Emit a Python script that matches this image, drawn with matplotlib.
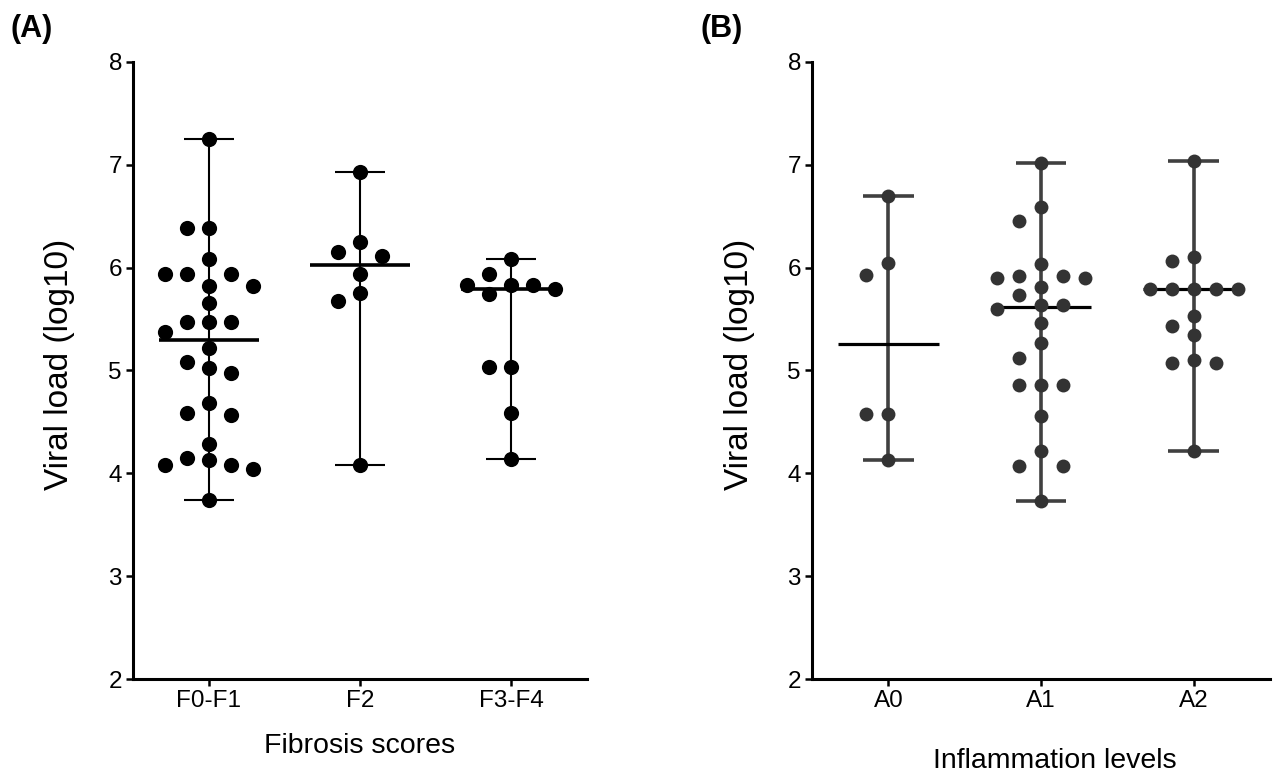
import matplotlib
matplotlib.use('Agg')
import matplotlib.pyplot as plt
import numpy as np

plt.rcParams['font.family'] = ['Liberation Sans', 'DejaVu Sans']

# (A) viral load by fibrosis score
fib_groups = ['F0-F1', 'F2', 'F3-F4']
fib_f0f1 = [7.25, 6.39, 6.39, 6.08, 5.94, 5.94, 5.94, 5.82, 5.82, 5.66,
            5.47, 5.47, 5.47, 5.37, 5.22, 5.08, 5.02, 4.98, 4.68, 4.59,
            4.57, 4.29, 4.15, 4.13, 4.08, 4.08, 4.04, 3.74]
fib_f2 = [6.93, 6.25, 6.15, 6.11, 5.94, 5.75, 5.68, 4.08]
fib_f3f4 = [6.08, 5.94, 5.83, 5.83, 5.83, 5.79, 5.74, 5.03, 5.03, 4.59, 4.14]

# (B) viral load by inflammation level
inf_groups = ['A0', 'A1', 'A2']
inf_a0 = [6.70, 6.05, 5.93, 4.58, 4.58, 4.13]
inf_a1 = [7.02, 6.59, 6.45, 6.04, 5.92, 5.92, 5.90, 5.90, 5.81, 5.73,
          5.64, 5.64, 5.60, 5.46, 5.27, 5.12, 4.86, 4.86, 4.86, 4.56,
          4.22, 4.07, 4.07, 3.73]
inf_a2 = [7.04, 6.10, 6.06, 5.79, 5.79, 5.79, 5.79, 5.79, 5.53, 5.43,
          5.35, 5.10, 5.07, 5.07, 4.22]


def swarm(ax, vals, diam_px=16.0, step_px=22.0):
    # greedy beeswarm, done in pixel space
    p0 = ax.transData.transform((0, 0))
    p1 = ax.transData.transform((1, 1))
    sx = p1[0] - p0[0]
    sy = p1[1] - p0[1]
    placed = []
    offs = []
    for v in vals:
        y = v * sy
        k = 0
        found = None
        while found is None:
            cands = [0] if k == 0 else [-k, k]
            for c in cands:
                x = c * step_px
                if all((x - a) ** 2 + (y - b) ** 2 >= diam_px ** 2 for a, b in placed):
                    found = x
                    break
            k += 1
        placed.append((found, y))
        offs.append(found / sx)
    return np.array(offs)


def panel(ax, groups, data, color, line_color, lw, med_lw, dot_s):
    ax.set_xlim(-0.5, 2.5)
    ax.set_ylim(2, 8)
    for i, vals in enumerate(data):
        vals = np.array(vals)
        lo, hi, med = vals.min(), vals.max(), np.median(vals)
        ax.vlines(i, lo, hi, color=line_color, lw=lw, zorder=1)
        ax.hlines([lo, hi], i - 0.165, i + 0.165, color=line_color, lw=lw, zorder=1)
        ax.hlines(med, i - 0.33, i + 0.33, color='black', lw=med_lw, zorder=2)
        offs = swarm(ax, vals)
        ax.scatter(i + offs, vals, s=dot_s, color=color, zorder=3, linewidths=0)
    ax.set_xticks(range(len(groups)))
    ax.set_xticklabels(groups)
    ax.set_yticks(range(2, 9))
    for side in ['top', 'right']:
        ax.spines[side].set_visible(False)
    for side in ['left', 'bottom']:
        ax.spines[side].set_linewidth(2.2)
    ax.tick_params(direction='out', length=5, width=1.8, labelsize=17.5, pad=3)


fig = plt.figure(figsize=(12.8, 7.73), dpi=100)
axA = fig.add_axes([0.1039, 0.1216, 0.3547, 0.7982])
axB = fig.add_axes([0.6344, 0.1216, 0.3578, 0.7982])

panel(axA, fib_groups, [fib_f0f1, fib_f2, fib_f3f4], 'black', 'black', 1.5, 2.6, 120)
panel(axB, inf_groups, [inf_a0, inf_a1, inf_a2], '#333333', '#404040', 2.6, 2.3, 100)

axA.set_ylabel('Viral load (log10)', fontsize=24)
axA.yaxis.set_label_coords(-0.128, 0.51)
axA.set_xlabel('Fibrosis scores', fontsize=20.5)
axA.xaxis.set_label_coords(0.5, -0.088)

axB.set_ylabel('Viral load (log10)', fontsize=24)
axB.yaxis.set_label_coords(-0.124, 0.51)
axB.set_xlabel('Inflammation levels', fontsize=20.5)
axB.xaxis.set_label_coords(0.53, -0.112)

fig.text(0.008, 0.962, '(A)', fontsize=22, fontweight='bold', va='center', ha='left')
fig.text(0.547, 0.962, '(B)', fontsize=22, fontweight='bold', va='center', ha='left')

fig.savefig('out.png', dpi=100)
